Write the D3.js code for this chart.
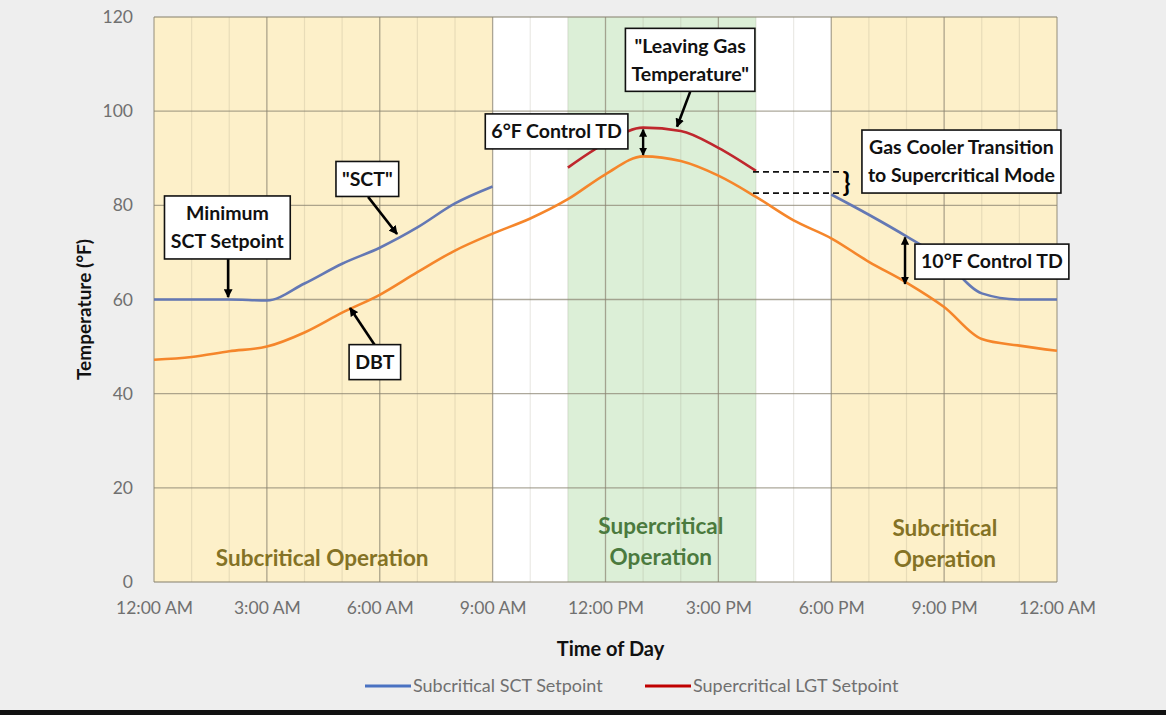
<!DOCTYPE html>
<html>
<head>
<meta charset="utf-8">
<script src="https://cdn.jsdelivr.net/npm/d3@7"></script>
<style>
  body { margin: 0; background: #eeeeee; }
  svg { display: block; }
  text { font-family: Lato, "Open Sans", sans-serif; }
</style>
</head>
<body>
<svg id="chart"></svg>
<script>

// 1. Data

const hours = [0, 1, 2, 3, 4, 5, 6, 7, 8, 9, 10, 11, 12, 13, 14, 15, 16, 17, 18, 19, 20, 21, 22, 23, 24]
const dbt = [47.2, 47.8, 49.0, 50.0, 53.0, 57.2, 61.0, 65.8, 70.4, 74.0, 77.2, 81.3, 86.6, 90.4, 89.4, 86.3, 81.8, 76.8, 73.0, 68.0, 63.6, 58.4, 51.6, 50.2, 49.1]
const sct = [60, 60, 60, 59.8, 63.4, 67.6, 71.0, 75.3, 80.4, 84.0, null, null, null, null, null, null, null, null, 82.3, 78.0, 73.4, 68.3, 61.3, 60, 60]
const lgt = [null, null, null, null, null, null, null, null, null, null, null, 88.0, 93.2, 96.5, 95.8, 92.2, 87.3, null, null, null, null, null, null, null, null]

const xTicks = [0, 3, 6, 9, 12, 15, 18, 21, 24]
const xTickLabels = ["12:00 AM", "3:00 AM", "6:00 AM", "9:00 AM", "12:00 PM", "3:00 PM", "6:00 PM", "9:00 PM", "12:00 AM"]
const yTicks = [0, 20, 40, 60, 80, 100, 120]

// operating zones across the day
const zoneStart = [0, 9, 11, 16, 18]
const zoneEnd = [9, 11, 16, 18, 24]
const zoneKind = ["sub", "none", "super", "none", "sub"]

const legendNames = ["Subcritical SCT Setpoint", "Supercritical LGT Setpoint"]

// 2. Dimensions

const width = 1166
let dimensions = {
  width: width,
  height: 715,
  margin: {
    top: 17,
    right: 109,
    bottom: 133,
    left: 154,
  },
}
dimensions.boundedWidth = dimensions.width - dimensions.margin.left - dimensions.margin.right
dimensions.boundedHeight = dimensions.height - dimensions.margin.top - dimensions.margin.bottom

const colors = {
  sub: "#fdf0c9",
  super: "#dcefd7",
  none: "#ffffff",
  dbt: "#f5862b",
  sct: "#6478b4",
  lgt: "#bf272d",
  subText: "#847225",
  superText: "#4b7a3e",
}

// 3. Canvas

const svg = d3.select("#chart")
    .attr("width", dimensions.width)
    .attr("height", dimensions.height)

svg.append("rect")
    .attr("width", dimensions.width)
    .attr("height", dimensions.height)
    .attr("fill", "#eeeeee")

svg.append("rect")
    .attr("y", 710)
    .attr("width", dimensions.width)
    .attr("height", 5)
    .attr("fill", "#111")

const bounds = svg.append("g")
    .attr("transform", `translate(${dimensions.margin.left}, ${dimensions.margin.top})`)

// 4. Scales

const xScale = d3.scaleLinear()
    .domain([0, 24])
    .range([0, dimensions.boundedWidth])

const yScale = d3.scaleLinear()
    .domain([0, 120])
    .range([dimensions.boundedHeight, 0])

// zones
bounds.append("g")
  .selectAll("rect")
  .data(zoneStart)
  .join("rect")
    .attr("x", d => xScale(d))
    .attr("y", 0)
    .attr("width", (d, i) => xScale(zoneEnd[i]) - xScale(d))
    .attr("height", dimensions.boundedHeight)
    .attr("fill", (d, i) => colors[zoneKind[i]])

// grid
const grid = bounds.append("g")
grid.selectAll(".minor")
  .data(hours.filter(h => h % 3 != 0))
  .join("line")
    .attr("class", "minor")
    .attr("x1", d => xScale(d))
    .attr("x2", d => xScale(d))
    .attr("y1", 0)
    .attr("y2", dimensions.boundedHeight)
    .attr("stroke", "#8a8370")
    .attr("stroke-opacity", 0.18)
    .attr("stroke-width", 1.2)
grid.selectAll(".vmajor")
  .data(xTicks)
  .join("line")
    .attr("class", "vmajor")
    .attr("x1", d => xScale(d))
    .attr("x2", d => xScale(d))
    .attr("y1", 0)
    .attr("y2", dimensions.boundedHeight)
    .attr("stroke", "#8a8370")
    .attr("stroke-opacity", 0.7)
    .attr("stroke-width", 1.3)
grid.selectAll(".hmajor")
  .data(yTicks)
  .join("line")
    .attr("class", "hmajor")
    .attr("x1", 0)
    .attr("x2", dimensions.boundedWidth)
    .attr("y1", d => yScale(d))
    .attr("y2", d => yScale(d))
    .attr("stroke", "#8a8370")
    .attr("stroke-opacity", 0.7)
    .attr("stroke-width", 1.3)

// zone labels
const zoneLabels = [
  {lines: ["Subcritical Operation"], h: 4.47, t: 5.1, color: colors.subText},
  {lines: ["Supercritical", "Operation"], h: 13.47, t: 11.8, color: colors.superText},
  {lines: ["Subcritical", "Operation"], h: 21.02, t: 11.5, color: colors.subText},
]
zoneLabels.forEach(z => {
  const t = bounds.append("text")
      .attr("x", xScale(z.h))
      .attr("y", yScale(z.t))
      .attr("text-anchor", "middle")
      .attr("font-size", 22.5)
      .attr("font-weight", 700)
      .attr("fill", z.color)
  z.lines.forEach((l, i) => {
    t.append("tspan")
        .attr("x", xScale(z.h))
        .attr("dy", i == 0 ? "0.35em" : 31)
        .text(l)
  })
})

// 5. Lines

const lineGen = values => d3.line()
    .defined((d, i) => values[i] != null)
    .x(d => xScale(d))
    .y((d, i) => yScale(values[i]))
    .curve(d3.curveMonotoneX)

const series = [
  {values: dbt, color: colors.dbt},
  {values: sct, color: colors.sct},
  {values: lgt, color: colors.lgt},
]
series.forEach(s => {
  bounds.append("path")
      .attr("d", lineGen(s.values)(hours))
      .attr("fill", "none")
      .attr("stroke", s.color)
      .attr("stroke-width", 2.6)
      .attr("stroke-linejoin", "round")
})

// 6. Annotations

svg.append("defs").append("marker")
    .attr("id", "head")
    .attr("viewBox", "0 0 10 10")
    .attr("refX", 9)
    .attr("refY", 5)
    .attr("markerWidth", 3.4)
    .attr("markerHeight", 3.4)
    .attr("orient", "auto-start-reverse")
  .append("path")
    .attr("d", "M0,0 L10,5 L0,10 z")
    .attr("fill", "#000")

const dashes = [[15.92, 87.1, 18.29, 87.1], [15.92, 82.6, 18.29, 82.6]]
bounds.selectAll(".dash")
  .data(dashes)
  .join("line")
    .attr("x1", d => xScale(d[0]))
    .attr("y1", d => yScale(d[1]))
    .attr("x2", d => xScale(d[2]))
    .attr("y2", d => yScale(d[3]))
    .attr("stroke", "#111")
    .attr("stroke-width", 1.6)
    .attr("stroke-dasharray", "6,4")

// brace
bounds.append("text")
    .attr("x", xScale(18.3))
    .attr("y", yScale(84.85))
    .attr("dy", "0.35em")
    .attr("font-size", 26)
    .attr("font-weight", 700)
    .text("}")

const arrows = [
  [1.97, 68.8, 1.97, 60.5],
  [5.69, 81.8, 6.46, 73.9],
  [5.87, 50.3, 5.21, 58.2],
  [14.25, 104.1, 13.9, 96.7],
]
bounds.selectAll(".arrow")
  .data(arrows)
  .join("line")
    .attr("x1", d => xScale(d[0]))
    .attr("y1", d => yScale(d[1]))
    .attr("x2", d => xScale(d[2]))
    .attr("y2", d => yScale(d[3]))
    .attr("stroke", "#000")
    .attr("stroke-width", 2.6)
    .attr("marker-end", "url(#head)")

const doubleArrows = [[13.0, 96.1, 13.0, 90.7], [19.96, 73.2, 19.96, 63.3]]
bounds.selectAll(".darrow")
  .data(doubleArrows)
  .join("line")
    .attr("x1", d => xScale(d[0]))
    .attr("y1", d => yScale(d[1]))
    .attr("x2", d => xScale(d[2]))
    .attr("y2", d => yScale(d[3]))
    .attr("stroke", "#000")
    .attr("stroke-width", 2.4)
    .attr("marker-start", "url(#head)")
    .attr("marker-end", "url(#head)")

const boxes = [
  {lines: ["Minimum", "SCT Setpoint"], h: 1.95, t: 75.3},
  {lines: ['"SCT"'], h: 5.67, t: 85.6},
  {lines: ["DBT"], h: 5.87, t: 46.7},
  {lines: ["6°F Control TD"], h: 10.7, t: 95.7},
  {lines: ['"Leaving Gas', 'Temperature"'], h: 14.25, t: 110.9},
  {lines: ["Gas Cooler Transition", "to Supercritical Mode"], h: 21.46, t: 89.3},
  {lines: ["10°F Control TD"], h: 22.27, t: 68.05},
]
const lineHeight = 28
boxes.forEach(b => {
  const g = bounds.append("g")
  const cx = xScale(b.h)
  const cy = yScale(b.t)
  const rect = g.append("rect")
      .attr("fill", "#fff")
      .attr("stroke", "#111")
      .attr("stroke-width", 1.6)
  const text = g.append("text")
      .attr("text-anchor", "middle")
      .attr("font-size", 19.5)
      .attr("font-weight", 700)
      .attr("fill", "#111")
  const n = b.lines.length
  b.lines.forEach((l, i) => {
    text.append("tspan")
        .attr("x", cx)
        .attr("y", cy + (i - (n - 1) / 2) * lineHeight)
        .attr("dy", "0.35em")
        .text(l)
  })
  const bb = text.node().getBBox()
  const padX = 6, padY = 5
  const h = (n - 1) * lineHeight + 25 + padY * 2
  rect.attr("x", cx - bb.width / 2 - padX)
      .attr("y", cy - h / 2)
      .attr("width", bb.width + padX * 2)
      .attr("height", h)
})

// 7. Axes

const xAxisGenerator = d3.axisBottom(xScale)
    .tickValues(xTicks)
    .tickFormat((d, i) => xTickLabels[i])
    .tickSize(0)
    .tickPadding(20)

const xAxis = bounds.append("g")
    .attr("transform", `translate(0, ${dimensions.boundedHeight})`)
    .call(xAxisGenerator)
xAxis.select(".domain").remove()
xAxis.selectAll("text")
    .attr("font-family", "Lato, sans-serif")
    .attr("font-size", 17.5)
    .attr("fill", "#707070")

const yAxisGenerator = d3.axisLeft(yScale)
    .tickValues(yTicks)
    .tickSize(0)
    .tickPadding(21)

const yAxis = bounds.append("g")
    .call(yAxisGenerator)
yAxis.select(".domain").remove()
yAxis.selectAll("text")
    .attr("font-family", "Lato, sans-serif")
    .attr("font-size", 17.5)
    .attr("fill", "#707070")

bounds.append("text")
    .attr("x", dimensions.boundedWidth / 2 + 5)
    .attr("y", dimensions.boundedHeight + 74)
    .attr("text-anchor", "middle")
    .attr("font-size", 20)
    .attr("font-weight", 700)
    .attr("fill", "#111")
    .text("Time of Day")

bounds.append("text")
    .attr("transform", `translate(-70, ${dimensions.boundedHeight / 2 + 10}) rotate(-90)`)
    .attr("text-anchor", "middle")
    .attr("dy", "0.35em")
    .attr("font-size", 19)
    .attr("font-weight", 700)
    .attr("fill", "#111")
    .text("Temperature (°F)")

// legend
const legendX = [365, 645]
const legendColors = ["#4a72c2", "#c00000"]
const legend = svg.append("g")
    .attr("transform", "translate(0, 686)")
legendNames.forEach((name, i) => {
  legend.append("line")
      .attr("x1", legendX[i])
      .attr("x2", legendX[i] + 46)
      .attr("stroke", legendColors[i])
      .attr("stroke-width", 3)
  legend.append("text")
      .attr("x", legendX[i] + 48)
      .attr("dy", "0.35em")
      .attr("font-size", 18)
      .attr("fill", "#707070")
      .text(name)
})
</script>
</body>
</html>
